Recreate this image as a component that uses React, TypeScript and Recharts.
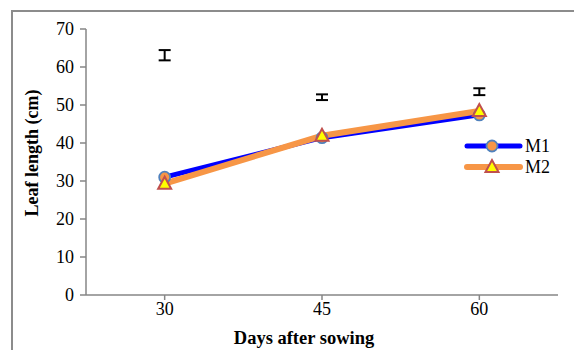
import { ComposedChart, Line, XAxis, YAxis, ErrorBar } from 'recharts';

const days = ['30', '45', '60'];
const m1 = [31.0, 41.4, 47.4];
const m2 = [29.3, 41.9, 48.4];
// floating LSD-style bars above the lines
const barMid = [63.1, 52.05, 53.5];
const barErr = [1.35, 0.75, 0.9];
const yTicks = [0, 10, 20, 30, 40, 50, 60, 70];

const data = days.map((d, i) => ({
  day: d,
  M1: m1[i],
  M2: m2[i],
  mid: barMid[i],
  err: barErr[i],
}));

const FONT = '"Liberation Serif", "Times New Roman", serif';
const AXIS = '#868686';
const BLUE = '#0000FF';
const ORANGE = '#F79646';

function CircleDot(props: any) {
  const { cx, cy } = props;
  if (cx == null || cy == null) return null;
  return <circle cx={cx} cy={cy} r={5.5} fill={ORANGE} stroke="#4F81BD" strokeWidth={1.8} />;
}

function TriDot(props: any) {
  const { cx, cy } = props;
  if (cx == null || cy == null) return null;
  const pts = `${cx},${cy - 7} ${cx - 6.5},${cy + 5} ${cx + 6.5},${cy + 5}`;
  return <polygon points={pts} fill="#FFFF00" stroke="#C0504D" strokeWidth={2} />;
}

function XTick(props: any) {
  const { x, y, payload } = props;
  return (
    <text x={x} y={y + 12.5} textAnchor="middle" style={{ fontFamily: FONT, fontSize: 18 }} fill="#000">
      {payload.value}
    </text>
  );
}

function YTick(props: any) {
  const { x, y, payload } = props;
  return (
    <text x={x} y={y + 6} textAnchor="end" style={{ fontFamily: FONT, fontSize: 18 }} fill="#000">
      {payload.value}
    </text>
  );
}

function LegendBox() {
  return (
    <svg width={100} height={48}>
      <line x1={4} y1={13} x2={57} y2={13} stroke={BLUE} strokeWidth={5} strokeLinecap="round" />
      <circle cx={29} cy={13} r={5.5} fill={ORANGE} stroke="#4F81BD" strokeWidth={1.8} />
      <text x={62} y={19} style={{ fontFamily: FONT, fontSize: 18 }} fill="#000">M1</text>
      <line x1={4} y1={34} x2={57} y2={34} stroke={ORANGE} strokeWidth={6} strokeLinecap="round" />
      <polygon points="29,27 22.5,39 35.5,39" fill="#FFFF00" stroke="#C0504D" strokeWidth={2} />
      <text x={62} y={40} style={{ fontFamily: FONT, fontSize: 18 }} fill="#000">M2</text>
    </svg>
  );
}

export default function App() {
  return (
    <div
      style={{
        position: 'absolute',
        left: 0,
        top: 0,
        width: 574,
        height: 350,
        overflow: 'hidden',
        background: '#fff',
        fontFamily: FONT,
      }}
    >
      <div
        style={{
          position: 'absolute',
          left: 11,
          top: 10,
          width: 620,
          height: 400,
          border: '2px solid #8c8c8c',
        }}
      />
      <div style={{ position: 'absolute', left: 0, top: 0 }}>
        <ComposedChart
          width={574}
          height={350}
          data={data}
          margin={{ top: 29, right: 16, bottom: 0, left: 26 }}
        >
          <XAxis
            dataKey="day"
            scale="band"
            height={55}
            stroke={AXIS}
            strokeWidth={1.5}
            tickSize={5}
            tickMargin={2}
            tick={<XTick />}
            label={({ viewBox }: any) => (
              <text
                x={304}
                y={viewBox.y + 49}
                textAnchor="middle"
                style={{ fontFamily: FONT, fontSize: 18.5, fontWeight: 'bold' }}
                fill="#000"
              >
                Days after sowing
              </text>
            )}
          />
          <YAxis
            width={60}
            domain={[0, 70]}
            ticks={yTicks}
            interval={0}
            stroke={AXIS}
            strokeWidth={1.5}
            tickSize={6}
            tickMargin={6}
            tick={<YTick />}
            label={() => (
              <text
                x={38}
                y={153}
                transform="rotate(-90 38 153)"
                textAnchor="middle"
                style={{ fontFamily: FONT, fontSize: 18, fontWeight: 'bold' }}
                fill="#000"
              >
                Leaf length (cm)
              </text>
            )}
          />
          <Line
            dataKey="mid"
            stroke="none"
            dot={false}
            activeDot={false}
            legendType="none"
            isAnimationActive={false}
          >
            <ErrorBar dataKey="err" direction="y" width={6} stroke="#000" strokeWidth={2} />
          </Line>
          <Line
            dataKey="M1"
            stroke={BLUE}
            strokeWidth={5}
            dot={<CircleDot />}
            activeDot={false}
            isAnimationActive={false}
          />
          <Line
            dataKey="M2"
            stroke={ORANGE}
            strokeWidth={6}
            dot={<TriDot />}
            activeDot={false}
            isAnimationActive={false}
          />
        </ComposedChart>
      </div>
      <div style={{ position: 'absolute', left: 463, top: 133 }}>
        <LegendBox />
      </div>
    </div>
  );
}
